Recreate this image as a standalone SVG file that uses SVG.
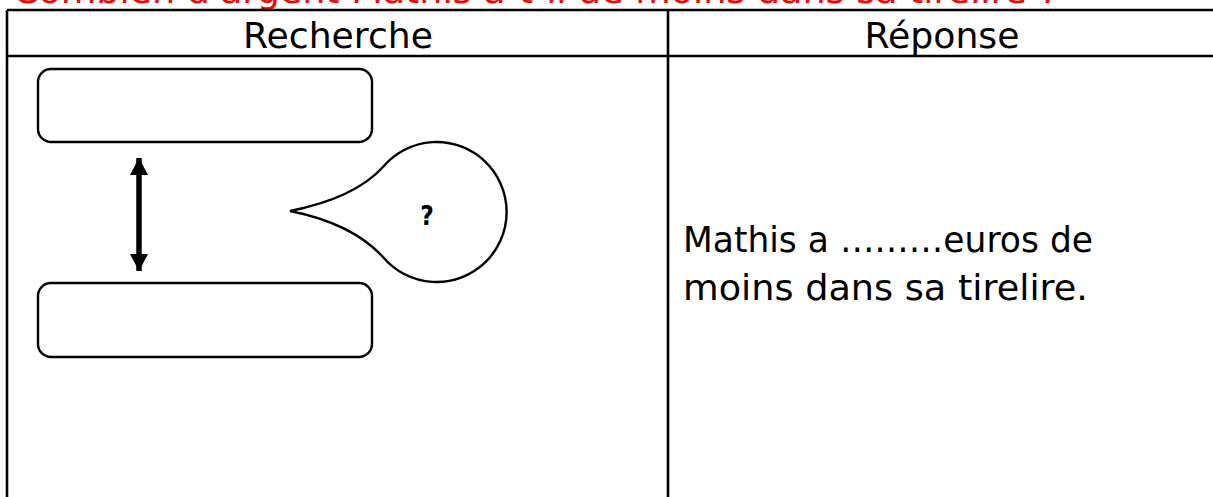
<svg xmlns="http://www.w3.org/2000/svg" width="1213" height="497" viewBox="0 0 1213 497">
<style>
.grid{stroke:#000;stroke-width:2.6;fill:none}
.box{fill:#fff;stroke:#000;stroke-width:2.4}
.hdr{font-family:"DejaVu Sans",Verdana,sans-serif;font-size:35px;fill:#000;text-anchor:middle}
.ans{font-family:"DejaVu Sans",Verdana,sans-serif;font-size:35px;fill:#000}
.title{font-family:"DejaVu Sans",Verdana,sans-serif;font-size:36px;fill:#ff0000}
</style>
<defs>
<marker id="ah" viewBox="0 0 17 18" refX="17" refY="9" markerUnits="userSpaceOnUse" markerWidth="17" markerHeight="18" orient="auto-start-reverse">
<path d="M0,0 L17,9 L0,18 Z" fill="#000"/>
</marker>
</defs>
<rect width="1213" height="497" fill="#fff"/>
<text class="title" x="13" y="3" textLength="1045" lengthAdjust="spacingAndGlyphs">Combien d'argent Mathis a-t-il de moins dans sa tirelire ?</text>
<g id="table">
<rect x="7" y="10" width="1206" height="487" fill="#fff"/>
<path class="grid" d="M7,10 H1213 M7,56 H1213 M7,10 V497 M668,10 V497"/>
<text class="hdr" x="338" y="48" textLength="190" lengthAdjust="spacingAndGlyphs">Recherche</text>
<text class="hdr" x="942" y="48" textLength="155" lengthAdjust="spacingAndGlyphs">Réponse</text>
</g>
<g id="box-top"><rect class="box" x="38" y="69" width="334" height="73" rx="13"/></g>
<g id="box-bottom"><rect class="box" x="38" y="283" width="334" height="74" rx="13"/></g>
<g id="bubble">
<path class="box" d="M290,211 C330,203 362,190 383,167 A70,70 0 1 1 383,257 C362,234 330,219 290,211 Z"/>
<text x="427" y="225" font-family="'DejaVu Sans Condensed','DejaVu Sans',sans-serif" font-weight="bold" font-size="26" text-anchor="middle">?</text>
</g>
<g id="answer">
<text class="ans" x="683" y="252" textLength="410" lengthAdjust="spacingAndGlyphs">Mathis a ………euros de</text>
<text class="ans" x="683" y="300" textLength="405" lengthAdjust="spacingAndGlyphs">moins dans sa tirelire.</text>
</g>
<g id="connectors">
<line x1="139" y1="158" x2="139" y2="271" stroke="#000" stroke-width="5.5" marker-start="url(#ah)" marker-end="url(#ah)"/>
</g>
</svg>
